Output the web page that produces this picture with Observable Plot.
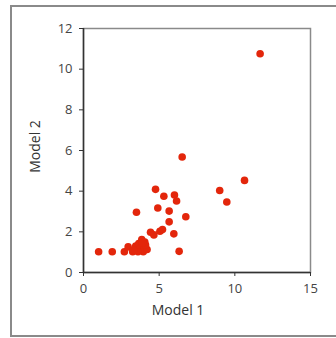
<!DOCTYPE html>
<html>
<head>
<meta charset="utf-8">
<script src="https://cdn.jsdelivr.net/npm/d3@7"></script>
<script src="https://cdn.jsdelivr.net/npm/@observablehq/plot@0.6"></script>
<style>
  html, body { margin: 0; padding: 0; background: #fff; overflow: hidden; }
  #wrap { position: relative; width: 336px; height: 338px; }
  #border { position: absolute; left: 10px; top: 5px; width: 340px; height: 332px; border: 2px solid #8a8a8a; box-sizing: border-box; pointer-events: none; }
  #chart { position: absolute; left: 0; top: 0; }
</style>
</head>
<body>
<div id="wrap"><div id="chart"></div><div id="border"></div></div>
<script>
const model1 = [1.0, 1.9, 2.7, 2.95, 3.25, 3.5, 3.45, 3.65, 3.85, 3.75, 4.0, 3.95, 4.2, 4.05, 3.6, 3.3, 4.1, 3.9,
  4.43, 4.65, 4.76, 4.91, 5.05, 5.22, 5.31, 5.66, 5.66, 5.97, 6.01, 6.15, 6.32, 6.52, 6.76, 9.0, 9.47, 10.64, 11.67];
const model2 = [1.02, 1.02, 1.02, 1.26, 1.02, 2.96, 1.3, 1.42, 1.62, 1.18, 1.26, 1.02, 1.13, 1.5, 1.02, 1.1, 1.35, 1.45,
  1.98, 1.85, 4.09, 3.17, 2.03, 2.11, 3.75, 3.02, 2.49, 1.9, 3.81, 3.52, 1.04, 5.68, 2.74, 4.03, 3.47, 4.53, 10.76];
const xTicks = [0, 5, 10, 15];
const yTicks = [0, 2, 4, 6, 8, 10, 12];
const xLabel = "Model 1";
const yLabel = "Model 2";

const data = model1.map((x, i) => ({x, y: model2[i]}));

const chart = Plot.plot({
  width: 336,
  height: 338,
  marginLeft: 83,
  marginRight: 26,
  marginTop: 28,
  marginBottom: 66,
  style: {fontFamily: "'Open Sans', 'DejaVu Sans', sans-serif", background: "transparent"},
  x: {domain: [0, 15]},
  y: {domain: [0, 12]},
  marks: [
    Plot.frame({stroke: "#8a8a8a", strokeWidth: 1.5}),
    Plot.axisX({ticks: xTicks, tickSize: 4, tickPadding: 7, fontSize: 13, stroke: "#333", fill: "#444", label: null}),
    Plot.axisY({ticks: yTicks, tickSize: 4, tickPadding: 7, fontSize: 13, stroke: "#333", fill: "#444", label: null}),
    Plot.ruleX([0], {stroke: "#333", strokeWidth: 1.5}),
    Plot.ruleY([0], {stroke: "#333", strokeWidth: 1.5}),
    Plot.dot(data, {x: "x", y: "y", r: 3.8, fill: "#e3260b", stroke: null}),
    Plot.text([xLabel], {frameAnchor: "bottom", lineAnchor: "middle", textAnchor: "middle", dx: -19, dy: 38, fontSize: 14, fill: "#333"}),
    Plot.text([yLabel], {frameAnchor: "left", lineAnchor: "middle", textAnchor: "middle", rotate: -90, dx: -48, dy: -4, fontSize: 14, fill: "#333"})
  ]
});
document.getElementById("chart").appendChild(chart);
</script>
</body>
</html>
